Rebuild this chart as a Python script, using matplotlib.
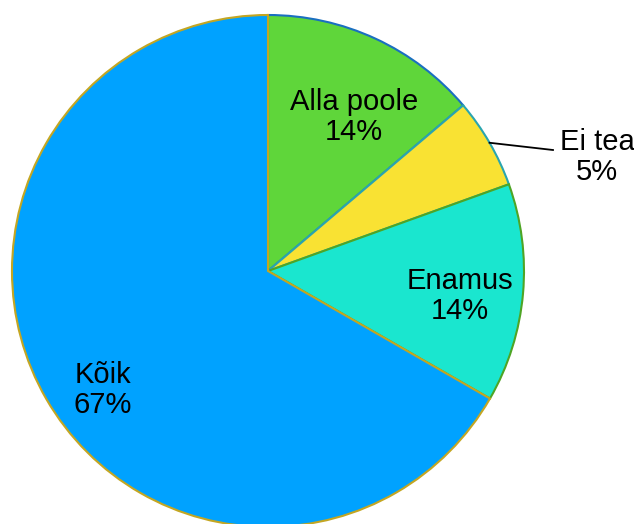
import numpy as np
import matplotlib.pyplot as plt

plt.rcParams['font.family'] = ['Liberation Sans', 'DejaVu Sans']

# slice data, clockwise from 12 o'clock
labels = ['Alla poole', 'Ei tea', 'Enamus', 'Kõik']
values = [13.8, 5.7, 13.8, 66.7]
pct_text = ['14%', '5%', '14%', '67%']

colors = ['#5fd63a', '#f9e233', '#1ae6cf', '#00a2ff']
edges = ['#1a6fc0', '#2aa5b0', '#4ea525', '#c4a622']

W, H = 634, 524
fig = plt.figure(figsize=(W / 100, H / 100), dpi=100)
ax = fig.add_axes([0, 0, 1, 1])
ax.set_xlim(0, W)
ax.set_ylim(0, H)
ax.set_aspect('equal')
ax.axis('off')

cx, cy, R = 268, H - 271, 256

wedges, _ = ax.pie(values, colors=colors, startangle=90, counterclock=False,
                   center=(cx, cy), radius=R, frame=True,
                   wedgeprops=dict(linewidth=1.5))
for w, ec in zip(wedges, edges):
    w.set_edgecolor(ec)
ax.set_xlim(0, W)
ax.set_ylim(0, H)
ax.axis('off')

# label positions in pixel space (x, y from top)
label_pos = [(354, 117), (597, 157), (460, 296), (103, 390)]
for name, pct, (lx, ly) in zip(labels, pct_text, label_pos):
    ax.text(lx, H - ly, f'{name}\n{pct}', ha='center', va='center',
            fontsize=21, linespacing=1.12, color='black')

# leader line for the small slice
w = wedges[1]
mid = np.deg2rad((w.theta1 + w.theta2) / 2)
x0, y0 = cx + R * np.cos(mid), cy + R * np.sin(mid)
ax.plot([x0, 553], [y0, H - 150], color='black', lw=1.3)

fig.savefig('out.png', dpi=100)
